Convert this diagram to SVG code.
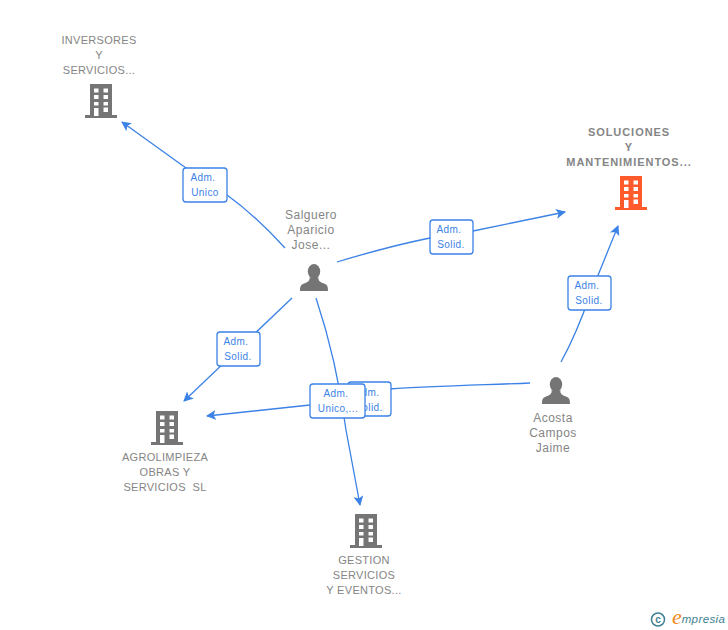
<svg xmlns="http://www.w3.org/2000/svg" width="728" height="630" viewBox="0 0 728 630">
<style>
text{font-family:"Liberation Sans",Arial,sans-serif;text-anchor:middle;white-space:pre}
.n{font-size:11px;fill:#858585;letter-spacing:.3px}
.p{font-size:12px;letter-spacing:.5px}
.b{font-weight:bold;letter-spacing:.95px}
.c{fill:none;stroke:#3b82e6;stroke-width:1.3}
.l rect{fill:#fff;stroke:#3b82e6;stroke-width:1.3}
.l text{font-size:10px;fill:#3b82e6;letter-spacing:.4px}
</style>
<defs>
<marker id="a" markerWidth="11" markerHeight="10" refX="9" refY="5" orient="auto" markerUnits="userSpaceOnUse"><path d="M0 0L10 5L0 10L2.5 5Z" fill="#3b82e6"/></marker>
<symbol id="bld" viewBox="0 0 32 34" overflow="visible"><path fill-rule="evenodd" d="M5 0H27V31H32V34H0V31H5ZM9 4.500V8.500H13.500V4.500ZM18.500 4.500V8.500H23V4.500ZM9 11V15H13.500V11ZM18.500 11V15H23V11ZM9 18V21.500H13.500V18ZM18.500 18V21.500H23V18ZM9 24V32H13.500V24ZM18.500 23.500V28H23V23.500Z"/></symbol>
<symbol id="per" viewBox="0 0 28 27" overflow="visible"><ellipse cx="14" cy="7.500" rx="6.200" ry="7.500"/><path d="M9.500 13.500C10 17 8 18 4 19.500C1 20.500 0 22 0 27H28C28 22 27 20.500 24 19.500C20 18 18 17 18.500 13.500Z"/></symbol>
</defs>
<rect width="728" height="630" fill="#fff"/>
<g id="connectors">
<path class="c" marker-end="url(#a)" d="M285 248C265 226 245 208 227 195L186 168L122 122"/>
<path class="c" marker-end="url(#a)" d="M337 262C370 252 400 244 430 238L473 231L565 212"/>
<path class="c" marker-end="url(#a)" d="M292 298L184 401"/>
<path class="c" marker-end="url(#a)" d="M316 298C330 340 340 385 346 430L360 505"/>
<path class="c" marker-end="url(#a)" d="M530 383C480 385 430 386 390 389L310 405L207 416"/>
<path class="c" marker-end="url(#a)" d="M561 362C572 342 582 318 590 295L618 226"/>
</g>
<g id="n-inversores" fill="#757575">
<use href="#bld" x="85" y="84" width="32" height="34"/>
<text class="n" x="99" y="44">INVERSORES</text><text class="n" x="99" y="59">Y</text><text class="n" x="99" y="74">SERVICIOS...</text>
</g>
<g id="n-soluciones" fill="#ff5a2c">
<use href="#bld" x="615" y="176" width="32" height="34"/>
<text class="n b" x="629" y="136">SOLUCIONES</text><text class="n b" x="629" y="151">Y</text><text class="n b" x="629" y="166">MANTENIMIENTOS...</text>
</g>
<g id="n-salguero" fill="#757575">
<use href="#per" x="300" y="264" width="28" height="27"/>
<text class="n p" x="311" y="219">Salguero</text><text class="n p" x="311" y="234">Aparicio</text><text class="n p" x="311" y="249">Jose...</text>
</g>
<g id="n-acosta" fill="#757575">
<use href="#per" x="542" y="377" width="28" height="27"/>
<text class="n p" x="553" y="422">Acosta</text><text class="n p" x="553" y="437">Campos</text><text class="n p" x="553" y="452">Jaime</text>
</g>
<g id="n-agrolimpieza" fill="#757575">
<use href="#bld" x="151" y="411" width="32" height="34"/>
<text class="n" x="165" y="461">AGROLIMPIEZA</text><text class="n" x="165" y="476">OBRAS Y</text><text class="n" x="165" y="491">SERVICIOS  SL</text>
</g>
<g id="n-gestion" fill="#757575">
<use href="#bld" x="350" y="514" width="32" height="34"/>
<text class="n" x="364" y="564">GESTION</text><text class="n" x="364" y="579">SERVICIOS</text><text class="n" x="364" y="594">Y EVENTOS...</text>
</g>
<g id="labels">
<g class="l"><rect x="183" y="168" width="44" height="34" rx="3"/><text x="203" y="181">Adm.</text><text x="205" y="196">Unico</text></g>
<g class="l"><rect x="430" y="220" width="43" height="34" rx="3"/><text x="449" y="233">Adm.</text><text x="451" y="248">Solid.</text></g>
<g class="l"><rect x="217" y="332" width="43" height="34" rx="3"/><text x="236" y="345">Adm.</text><text x="238" y="360">Solid.</text></g>
<g class="l"><rect x="568" y="276" width="43" height="34" rx="3"/><text x="587" y="289">Adm.</text><text x="589" y="304">Solid.</text></g>
<g class="l"><rect x="348" y="382" width="43" height="34" rx="3"/><text x="367" y="396">Adm.</text><text x="369" y="411">Solid.</text></g>
<g class="l"><rect x="310" y="384" width="55" height="34" rx="3"/><text x="336" y="397">Adm.</text><text x="338" y="412">Unico,...</text></g>
</g>
<g id="logo">
<circle cx="658" cy="619.500" r="6.500" fill="none" stroke="#3f7f95" stroke-width="1.500"/>
<text x="658" y="623" style="font-size:10px;font-weight:bold;fill:#3f7f95">c</text>
<text x="677" y="624" style="font-family:'Liberation Serif',serif;font-size:22px;font-style:italic;fill:#f08a1c">e</text>
<text x="703.500" y="623" style="font-size:11.500px;font-style:italic;fill:#3f7f95;letter-spacing:.4px">mpresia</text>
</g>
</svg>
